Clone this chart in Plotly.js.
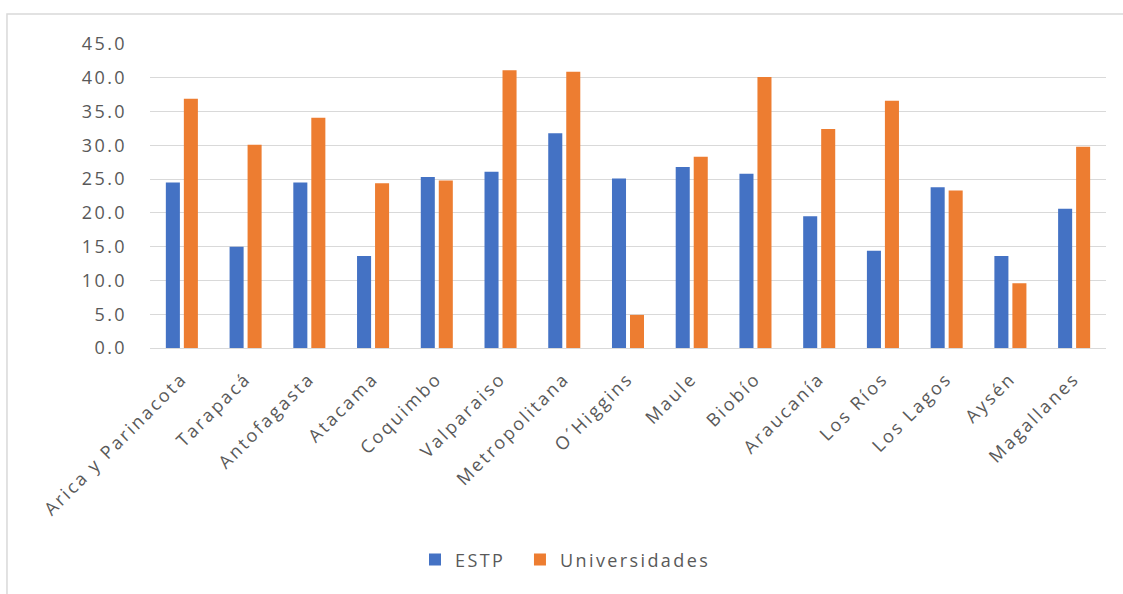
<!DOCTYPE html>
<html>
<head>
<meta charset="utf-8">
<script src="https://cdn.plot.ly/plotly-3.0.1.min.js"></script>
<style>
  html, body { margin: 0; padding: 0; background: #ffffff; }
  #chart { width: 1123px; height: 594px; }
  /* wide, airy label lettering (global so Plotly's text measuring sees it too) */
  text { letter-spacing: 2.4px; }
</style>
</head>
<body>
<div id="chart"></div>
<script>
// Regions of Chile
const regiones = [
  "Arica y Parinacota", "Tarapacá", "Antofagasta", "Atacama", "Coquimbo",
  "Valparaiso", "Metropolitana", "O´Higgins", "Maule", "Biobío",
  "Araucanía", "Los Ríos", "Los Lagos", "Aysén", "Magallanes"
];

// Values per institution type
const estp = [24.5, 15.0, 24.5, 13.6, 25.3, 26.1, 31.8, 25.1, 26.8, 25.8, 19.5, 14.4, 23.8, 13.6, 20.6];
const universidades = [36.9, 30.1, 34.1, 24.4, 24.8, 41.1, 40.9, 4.9, 28.3, 40.1, 32.4, 36.6, 23.3, 9.6, 29.8];

// Y axis ticks
const yTicks = [0, 5, 10, 15, 20, 25, 30, 35, 40, 45];
const yTickLabels = yTicks.map(v => v.toFixed(1));

const textColor = "#595959";
const fontFamily = "'Open Sans', 'Noto Sans', sans-serif";

const traces = [
  {
    type: "bar",
    name: "ESTP",
    x: regiones,
    y: estp,
    marker: { color: "#4472C4" },
    legend: "legend",
    hoverinfo: "x+y+name"
  },
  {
    type: "bar",
    name: "Universidades",
    x: regiones,
    y: universidades,
    marker: { color: "#ED7D31" },
    legend: "legend2",
    hoverinfo: "x+y+name"
  }
];

// shared legend styling; each series gets its own legend box for spacing
const legendBase = {
  orientation: "h",
  xanchor: "left",
  y: -0.697,
  yanchor: "middle",
  font: { family: fontFamily, size: 18, color: textColor },
  itemsizing: "constant",
  itemwidth: 30,
  bgcolor: "rgba(0,0,0,0)"
};

const layout = {
  width: 1123,
  height: 594,
  margin: { l: 150, r: 17, t: 44, b: 246, pad: 0 },
  paper_bgcolor: "#ffffff",
  plot_bgcolor: "#ffffff",
  font: { family: fontFamily, size: 18, color: textColor },
  barmode: "group",
  bargap: 0.435,
  bargroupgap: 0.22,
  showlegend: true,
  legend: Object.assign({}, legendBase, { x: 0.2772 }),
  legend2: Object.assign({}, legendBase, { x: 0.3870 }),
  xaxis: {
    type: "category",
    tickangle: -45,
    tickfont: { family: fontFamily, size: 18, color: textColor },
    showgrid: false,
    showline: true,
    linecolor: "#d9d9d9",
    linewidth: 1,
    ticks: "",
    ticklabelstandoff: 12,
    ticklabelshift: 0,
    automargin: false
  },
  yaxis: {
    range: [0, 45],
    tickvals: yTicks,
    ticktext: yTickLabels,
    tickfont: { family: fontFamily, size: 18, color: textColor },
    showgrid: true,
    gridcolor: "#d9d9d9",
    gridwidth: 1,
    zeroline: false,
    showline: false,
    ticks: "",
    ticklabelstandoff: 22,
    automargin: false
  },
  shapes: [
    {
      type: "rect",
      xref: "paper", yref: "paper",
      x0: -0.1496, x1: 1.2,
      y0: -1.2, y1: 1.0987,
      line: { color: "#d9d9d9", width: 1.5 },
      fillcolor: "rgba(0,0,0,0)",
      layer: "below"
    }
  ]
};

Plotly.newPlot("chart", traces, layout, { displayModeBar: false, staticPlot: true });
</script>
</body>
</html>
